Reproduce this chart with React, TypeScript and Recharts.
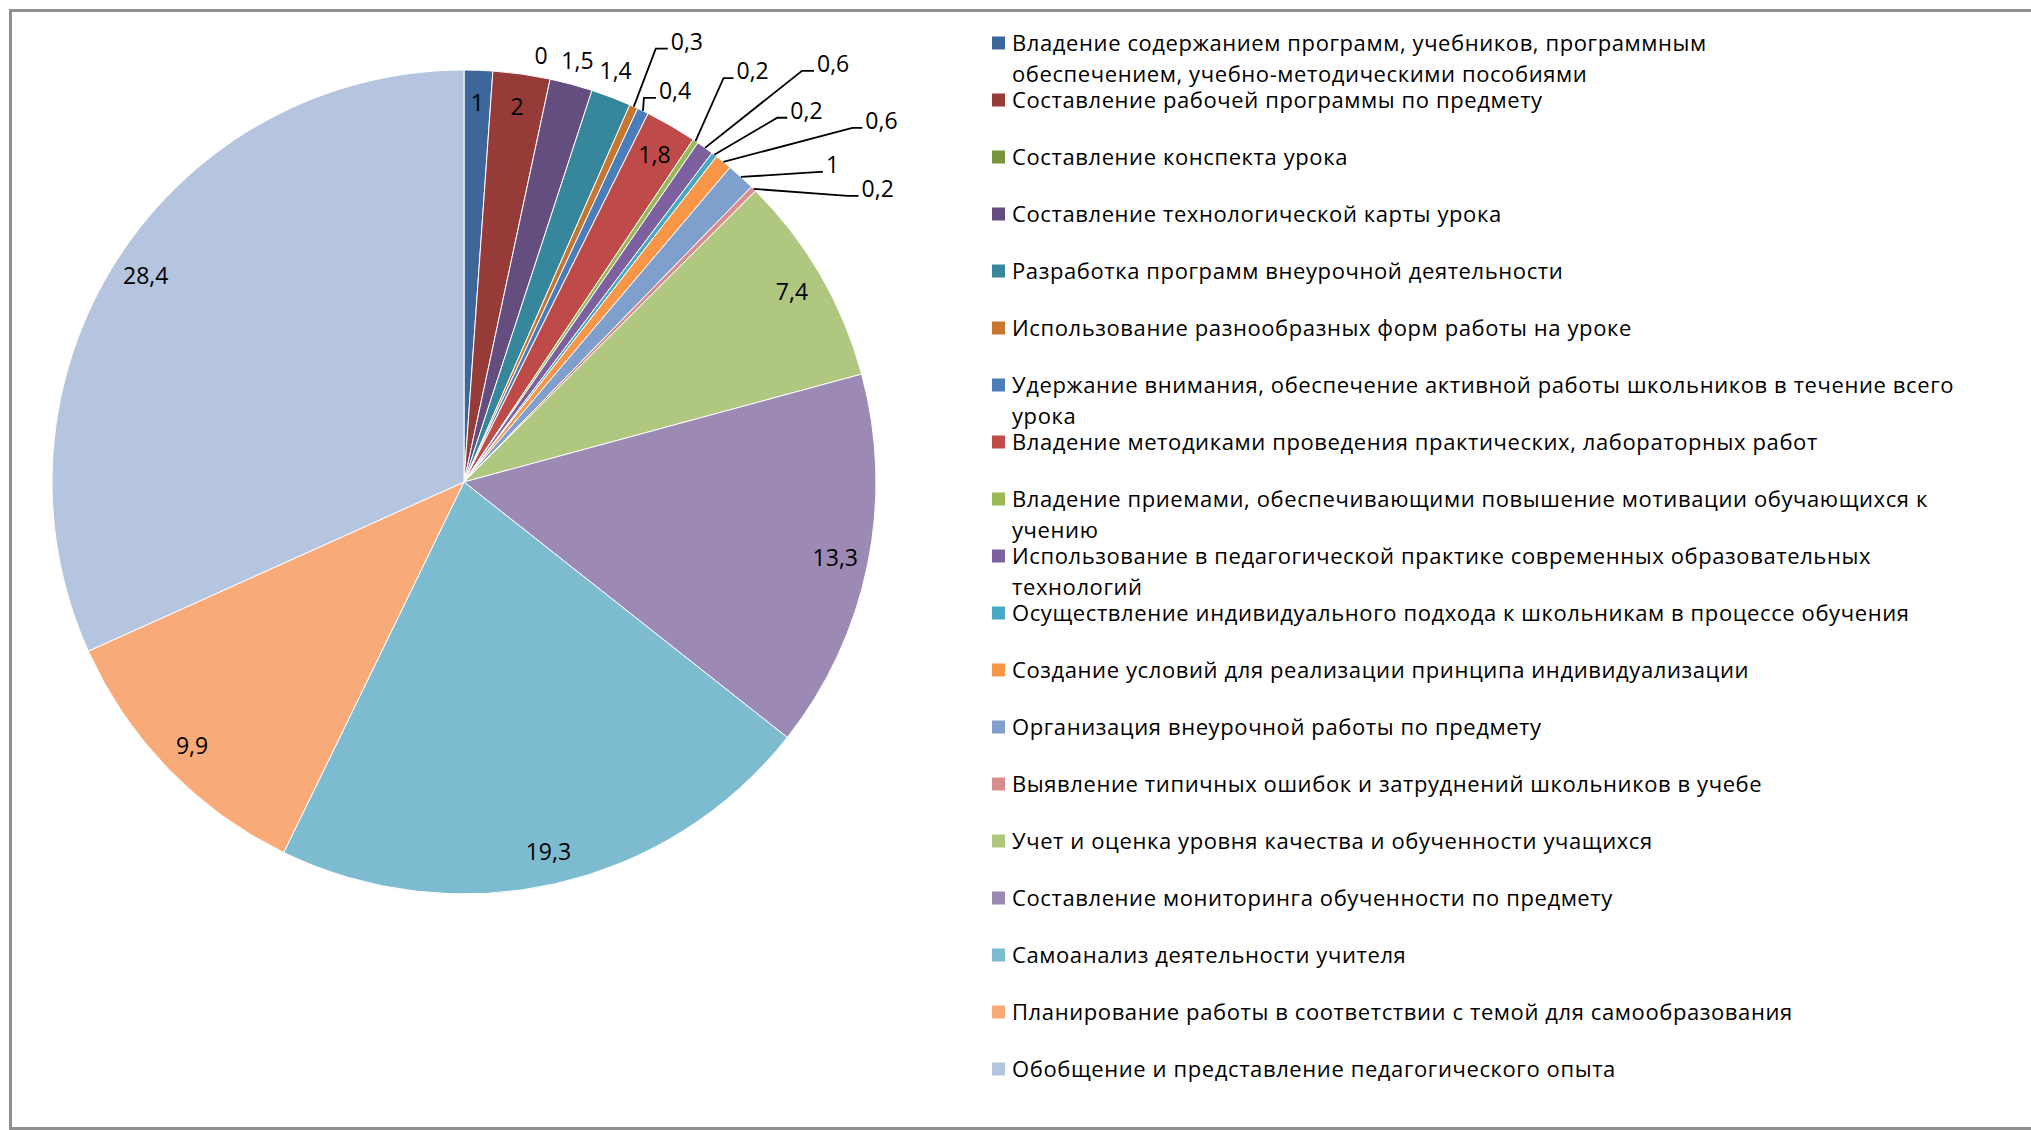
import React from 'react';
import { PieChart, Pie, Cell, Legend } from 'recharts';

// categories in legend order (line breaks as in the source legend)
const categories = [
  'Владение содержанием программ, учебников, программным\nобеспечением, учебно-методическими пособиями',
  'Составление рабочей программы по предмету',
  'Составление конспекта урока',
  'Составление технологической карты урока',
  'Разработка программ внеурочной деятельности',
  'Использование разнообразных форм работы на уроке',
  'Удержание внимания, обеспечение активной работы школьников в течение всего\nурока',
  'Владение методиками проведения практических, лабораторных работ',
  'Владение приемами, обеспечивающими повышение мотивации обучающихся к\nучению',
  'Использование в педагогической практике современных образовательных\nтехнологий',
  'Осуществление индивидуального подхода к школьникам в процессе обучения',
  'Создание условий для реализации принципа индивидуализации',
  'Организация внеурочной работы по предмету',
  'Выявление типичных ошибок и затруднений школьников в учебе',
  'Учет и оценка уровня качества и обученности учащихся',
  'Составление мониторинга обученности по предмету',
  'Самоанализ деятельности учителя',
  'Планирование работы в соответствии с темой для самообразования',
  'Обобщение и представление педагогического опыта',
];

const values = [1, 2, 0, 1.5, 1.4, 0.3, 0.4, 1.8, 0.2, 0.6, 0.2, 0.6, 1, 0.2, 7.4, 13.3, 19.3, 9.9, 28.4];

const colors = [
  '#3D669A', '#973B39', '#78953E', '#644E7F', '#36879C', '#C8752F',
  '#4A7EBB', '#BE4B48', '#98B954', '#7D60A0', '#46AAC5', '#F79646',
  '#7F9FCC', '#D88E8C', '#AFC77F', '#9C8AB5', '#7DBBD0', '#F8AB78', '#B5C4DF',
];

// label placement: in = inside end, out = just outside, leader = elbow offset from slice edge
type LabelPlace =
  | { kind: 'in' }
  | { kind: 'out'; dx: number; dy: number }
  | { kind: 'leader'; ex: number; ey: number; h: number };

const labelPlaces: LabelPlace[] = [
  { kind: 'in' },
  { kind: 'in' },
  { kind: 'out', dx: -14, dy: 0 },
  { kind: 'out', dx: 0, dy: 0 },
  { kind: 'out', dx: -4, dy: -4 },
  { kind: 'leader', ex: 22, ey: -58, h: 12 },
  { kind: 'leader', ex: 1, ey: -13, h: 12 },
  { kind: 'in' },
  { kind: 'leader', ex: 28, ey: -63, h: 10 },
  { kind: 'leader', ex: 97, ey: -77, h: 12 },
  { kind: 'leader', ex: 63, ey: -37, h: 10 },
  { kind: 'leader', ex: 129, ey: -34, h: 10 },
  { kind: 'leader', ex: 79, ey: -5, h: 3 },
  { kind: 'leader', ex: 94, ey: 7, h: 11 },
  { kind: 'in' },
  { kind: 'in' },
  { kind: 'in' },
  { kind: 'in' },
  { kind: 'in' },
];

const data = categories.map((name, i) => ({ name, value: values[i] }));

const FONT = "'Open Sans', sans-serif";
const FS = 22;
const LFS = 23;
const RADIAN = Math.PI / 180;

const fmt = (v: number) => String(v).replace('.', ',');

const renderLabel = (props: any) => {
  const { cx, cy, midAngle, outerRadius, index, value } = props;
  const place = labelPlaces[index];
  const cos = Math.cos(-midAngle * RADIAN);
  const sin = Math.sin(-midAngle * RADIAN);
  const txt = fmt(value);
  if (place.kind === 'in' || place.kind === 'out') {
    const r = place.kind === 'in' ? outerRadius - 33 : outerRadius + 24;
    const dx = place.kind === 'out' ? place.dx : 0;
    const dy = place.kind === 'out' ? place.dy : 0;
    const x = cx + r * cos + dx;
    const y = cy + r * sin + dy;
    return (
      <text key={`l${index}`} x={x} y={y + LFS * 0.357} textAnchor="middle" fontSize={LFS} fontFamily={FONT} fill="#000">
        {txt}
      </text>
    );
  }
  const ax = cx + outerRadius * cos;
  const ay = cy + outerRadius * sin;
  const bx = ax + place.ex;
  const by = ay + place.ey;
  const ex = bx + place.h;
  return (
    <g key={`l${index}`}>
      <polyline points={`${ax},${ay} ${bx},${by} ${ex},${by}`} fill="none" stroke="#000" strokeWidth={1.8} />
      <text x={ex + 3} y={by + 1} textAnchor="start" fontSize={LFS} fontFamily={FONT} fill="#000">
        {txt}
      </text>
    </g>
  );
};

const LEG_X = 980;

const renderLegend = () => (
  <svg width={1040} height={1130} style={{ display: 'block' }}>
    {categories.map((name, i) => {
      const base = 50.5 + 57 * i;
      const lines = name.split('\n');
      return (
        <g key={name}>
          <rect x={992 - LEG_X} y={base - 14} width={13} height={13} fill={colors[i]} />
          {lines.map((ln, j) => (
            <text
              key={j}
              x={1012 - LEG_X}
              y={base + 31 * j}
              fontSize={FS}
              fontFamily={FONT}
              letterSpacing={0.6}
              fill="#000"
            >
              {ln}
            </text>
          ))}
        </g>
      );
    })}
  </svg>
);

export default function App() {
  return (
    <div style={{ position: 'absolute', left: 0, top: 0, width: 2031, height: 1130, overflow: 'hidden', background: '#fff' }}>
      <div
        style={{
          position: 'absolute',
          left: 9,
          top: 9,
          width: 2060,
          height: 1121,
          border: '3px solid #8f8f8f',
          boxSizing: 'border-box',
        }}
      />
      <div style={{ position: 'absolute', left: 0, top: 0 }}>
        <PieChart width={2031} height={1130} margin={{ top: 0, right: 0, bottom: 0, left: 0 }}>
          <Pie
            data={data}
            dataKey="value"
            nameKey="name"
            cx={464}
            cy={482}
            outerRadius={412}
            startAngle={90}
            endAngle={-270}
            stroke="#ffffff"
            strokeWidth={1}
            label={renderLabel}
            labelLine={false}
            isAnimationActive={false}
          >
            {data.map((d, i) => (
              <Cell key={d.name} fill={colors[i]} />
            ))}
          </Pie>
          <Legend
            layout="vertical"
            align="center"
            verticalAlign="middle"
            content={renderLegend}
            wrapperStyle={{ left: LEG_X, top: 0, width: 1040, height: 1130 }}
          />
        </PieChart>
      </div>
    </div>
  );
}
